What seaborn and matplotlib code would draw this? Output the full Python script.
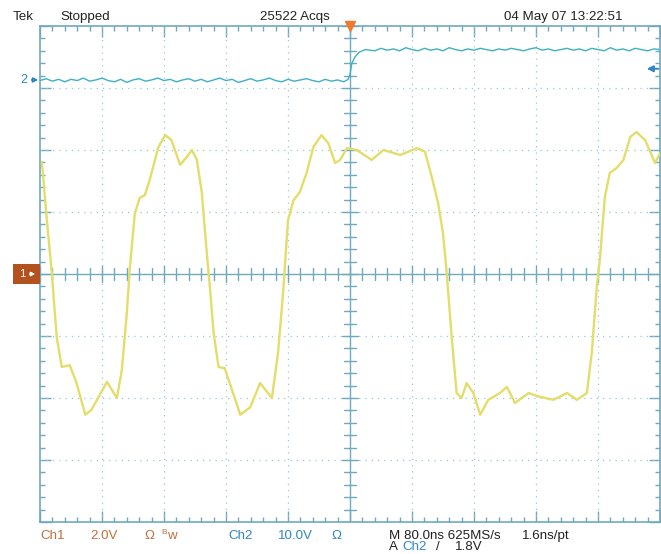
import numpy as np
import pandas as pd
import matplotlib
matplotlib.use("Agg")
import matplotlib.pyplot as plt
import matplotlib.font_manager as fm
from matplotlib.patches import Rectangle
import seaborn as sns

# ---------------- data (screen divisions: x -5..5, y -4..4) ----------------
ch1_t = [-4.97, -4.92, -4.89, -4.81, -4.73, -4.65, -4.52, -4.41, -4.27, -4.17,
         -3.92, -3.76, -3.68, -3.60, -3.55, -3.47, -3.39, -3.31, -3.23, -3.09,
         -2.98, -2.88, -2.74, -2.63, -2.55, -2.47, -2.39, -2.31, -2.26, -2.20,
         -2.12, -2.02, -1.94, -1.77, -1.61, -1.45, -1.26, -1.16, -1.08, -1.00,
         -0.91, -0.81, -0.70, -0.59, -0.46, -0.35, -0.24, -0.16, -0.05, 0.11,
         0.35, 0.54, 0.81, 1.08, 1.21, 1.32, 1.42, 1.50, 1.56, 1.64,
         1.72, 1.80, 1.88, 1.99, 2.10, 2.23, 2.42, 2.53, 2.66, 2.88,
         3.06, 3.28, 3.50, 3.66, 3.82, 3.90, 3.98, 4.03, 4.11, 4.19,
         4.30, 4.41, 4.52, 4.62, 4.76, 4.92, 5.00]
ch1_v = [1.81, 1.23, 0.87, 0.02, -1.02, -1.50, -1.47, -1.76, -2.27, -2.19,
         -1.74, -2.00, -1.55, -0.63, 0.11, 0.98, 1.23, 1.27, 1.52, 2.05,
         2.24, 2.16, 1.76, 1.89, 2.00, 1.84, 1.31, 0.34, -0.21, -0.95,
         -1.50, -1.52, -1.76, -2.27, -2.15, -1.76, -2.00, -1.27, -0.31, 0.87,
         1.19, 1.32, 1.63, 2.05, 2.24, 2.11, 1.79, 1.84, 2.03, 2.00,
         1.84, 2.00, 1.92, 2.03, 1.97, 1.56, 1.15, 0.66, 0.02, -1.02,
         -1.92, -2.00, -1.76, -1.92, -2.27, -2.03, -1.92, -1.82, -2.08, -1.92,
         -1.98, -2.03, -1.92, -2.03, -1.92, -1.27, -0.21, 0.23, 1.24, 1.63,
         1.71, 1.84, 2.21, 2.29, 2.16, 1.79, 1.95]

ch2_t = [-5.0, -4.9, -4.8, -4.7, -4.6, -4.5, -4.4, -4.3, -4.2, -4.1,
         -4.0, -3.9, -3.8, -3.7, -3.6, -3.5, -3.4, -3.3, -3.2, -3.1,
         -3.0, -2.9, -2.8, -2.7, -2.6, -2.5, -2.4, -2.3, -2.2, -2.1,
         -2.0, -1.9, -1.8, -1.7, -1.6, -1.5, -1.4, -1.3, -1.2, -1.1,
         -1.0, -0.9, -0.8, -0.7, -0.6, -0.5, -0.4, -0.3, -0.2, -0.1,
         -0.03, 0.0, 0.03, 0.08, 0.15, 0.25,
         0.4, 0.5, 0.6, 0.7, 0.8, 0.9, 1.0, 1.1, 1.2, 1.3,
         1.4, 1.5, 1.6, 1.7, 1.8, 1.9, 2.0, 2.1, 2.2, 2.3,
         2.4, 2.5, 2.6, 2.7, 2.8, 2.9, 3.0, 3.1, 3.2, 3.3,
         3.4, 3.5, 3.6, 3.7, 3.8, 3.9, 4.0, 4.1, 4.2, 4.3,
         4.4, 4.5, 4.6, 4.7, 4.8, 4.9, 5.0]
ch2_v = [3.12, 3.15, 3.11, 3.14, 3.10, 3.14, 3.12, 3.16, 3.11, 3.13,
         3.16, 3.12, 3.10, 3.14, 3.09, 3.13, 3.15, 3.11, 3.13, 3.16,
         3.12, 3.14, 3.10, 3.13, 3.15, 3.11, 3.14, 3.10, 3.13, 3.16,
         3.12, 3.14, 3.09, 3.12, 3.15, 3.11, 3.13, 3.16, 3.12, 3.10,
         3.14, 3.11, 3.13, 3.15, 3.12, 3.10, 3.14, 3.11, 3.13, 3.10,
         3.14, 3.22, 3.40, 3.50, 3.58, 3.62,
         3.60, 3.64, 3.61, 3.63, 3.60, 3.65, 3.62, 3.60, 3.64, 3.61,
         3.63, 3.60, 3.65, 3.62, 3.60, 3.63, 3.61, 3.64, 3.62, 3.60,
         3.63, 3.61, 3.64, 3.62, 3.60, 3.63, 3.65, 3.61, 3.63, 3.60,
         3.62, 3.64, 3.61, 3.63, 3.60, 3.64, 3.62, 3.60, 3.65, 3.61,
         3.63, 3.60, 3.64, 3.62, 3.60, 3.63, 3.62]

ch1_ref_level = 0.0
ch2_ref_level = 3.13
trig_level = 3.31
trig_time = 0.0

header_left = ["Tek", "Stopped"]
header_acq = "25522 Acqs"
header_date = "04 May 07 13:22:51"

# ---------------- style ----------------
sns.set_theme(style="white")
avail = {f.name for f in fm.fontManager.ttflist}
FONT = "Liberation Sans Narrow" if "Liberation Sans Narrow" in avail else "Liberation Sans"
plt.rcParams["font.family"] = [FONT, "DejaVu Sans"]

W, H = 661, 554
fig = plt.figure(figsize=(W / 100, H / 100), dpi=100)
fig.patch.set_facecolor("white")
ax = fig.add_axes([40 / W, 32 / H, 620 / W, 496 / H])
ax.set_facecolor("white")

GRID = "#6fa9bd"
DOT = "#9cc6d6"
YEL = "#e3dd6a"
CYN = "#3fb0c3"
CH1C = "#c0703c"
CH2C = "#2f86c4"
TXT = "#222222"

df1 = pd.DataFrame({"t": ch1_t, "v": ch1_v})
df2 = pd.DataFrame({"t": ch2_t, "v": ch2_v})
sns.lineplot(data=df1, x="t", y="v", ax=ax, color=YEL, lw=1.7, sort=False, zorder=5)
sns.lineplot(data=df2, x="t", y="v", ax=ax, color=CYN, lw=1.0, sort=False, zorder=5)

ax.set_xlim(-5, 5)
ax.set_ylim(-4, 4)
ax.set_xlabel("")
ax.set_ylabel("")

# dotted graticule
for xv in np.arange(-4, 5):
    if xv != 0:
        ax.axvline(xv, color=DOT, lw=0.9, ls=(0, (1, 4)), zorder=1)
for yv in np.arange(-3, 4):
    if yv != 0:
        ax.axhline(yv, color=DOT, lw=0.9, ls=(0, (1, 4)), zorder=1)

# center crosshair with ticks
ax.axvline(0, color=GRID, lw=1.0, zorder=2)
ax.axhline(0, color=GRID, lw=1.0, zorder=2)
minor_x = np.arange(-5, 5.01, 0.2)
minor_y = np.arange(-4, 4.01, 0.2)
xt = ax.get_xaxis_transform()
yt = ax.get_yaxis_transform()
for m in minor_x:
    major = abs(m - round(m)) < 1e-6
    h = 0.012 if not major else 0.016
    ax.plot([m, m], [0.5 - h, 0.5 + h], transform=xt, color=GRID, lw=1.0, zorder=2)
for m in minor_y:
    major = abs(m - round(m)) < 1e-6
    h = 0.009 if not major else 0.013
    ax.plot([0.5 - h, 0.5 + h], [m, m], transform=yt, color=GRID, lw=1.0, zorder=2)

# border ticks
ax.set_xticks(np.arange(-5, 6))
ax.set_yticks(np.arange(-4, 5))
ax.set_xticks(minor_x, minor=True)
ax.set_yticks(minor_y, minor=True)
ax.tick_params(which="both", direction="in", top=True, right=True, bottom=True, left=True,
               labelbottom=False, labelleft=False, color=GRID, width=1.0)
ax.tick_params(which="major", length=8)
ax.tick_params(which="minor", length=3.5)
for s in ax.spines.values():
    s.set_color(GRID)
    s.set_linewidth(1.2)

# trigger position marker (top)
ax.plot([trig_time], [4.0], marker="v", ms=7, color="#f07a2a", clip_on=False, zorder=10)

def fx(px):
    return px / W

def fy(py):
    return 1 - py / H

# right trigger level arrow
ytl = ax.transData.transform((0, trig_level))[1] / H
fig.add_artist(matplotlib.patches.FancyArrowPatch((fx(661), ytl), (fx(644), ytl),
               transform=fig.transFigure, arrowstyle="-|>", mutation_scale=9, color=CH2C, lw=1.4))

# ch2 ground marker on left
y2f = ax.transData.transform((0, ch2_ref_level))[1] / H
fig.text(fx(24), y2f, "2", color=CH2C, fontsize=9, ha="center", va="center")
fig.add_artist(matplotlib.patches.FancyArrowPatch((fx(29), y2f), (fx(41), y2f),
               transform=fig.transFigure, arrowstyle="-|>", mutation_scale=7, color=CH2C, lw=1.2))

# ch1 ground marker on left
y1 = ax.transData.transform((0, ch1_ref_level))[1] / H
fig.add_artist(Rectangle((fx(13), y1 - 10 / H), 27 / W, 20 / H, transform=fig.transFigure,
                         facecolor="#b4521f", edgecolor="none"))
fig.text(fx(22), y1, "1", color="white", fontsize=8, ha="center", va="center")
fig.add_artist(matplotlib.patches.FancyArrowPatch((fx(27), y1), (fx(38), y1),
               transform=fig.transFigure, arrowstyle="-|>", mutation_scale=6, color="white", lw=1.0))

# header
fs = 9.6
fig.text(fx(13), fy(17), header_left[0], color=TXT, fontsize=fs, va="center", ha="left")
fig.text(fx(60), fy(17), header_left[1], color=TXT, fontsize=fs, va="center", ha="left")
fig.text(fx(330), fy(17), header_acq, color=TXT, fontsize=fs, va="center", ha="right")
fig.text(fx(623), fy(17), header_date, color=TXT, fontsize=fs, va="center", ha="right")

# footer line 1
fy1 = fy(536)
fig.text(fx(40), fy1, "Ch1", color=CH1C, fontsize=fs, va="center")
fig.text(fx(90), fy1, "2.0V", color=CH1C, fontsize=fs, va="center")
fig.text(fx(144), fy1, "Ω", color=CH1C, fontsize=fs, va="center")
fig.text(fx(161), fy(532), "B", color=CH1C, fontsize=6, va="center")
fig.text(fx(167), fy1, "w", color=CH1C, fontsize=fs, va="center")
fig.text(fx(228), fy1, "Ch2", color=CH2C, fontsize=fs, va="center")
fig.text(fx(278), fy1, "10.0V", color=CH2C, fontsize=fs, va="center")
fig.text(fx(331), fy1, "Ω", color=CH2C, fontsize=fs, va="center")
fig.text(fx(389), fy1, "M 80.0ns 625MS/s", color=TXT, fontsize=fs, va="center")
fig.text(fx(522), fy1, "1.6ns/pt", color=TXT, fontsize=fs, va="center")

# footer line 2
fy2 = fy(546.5)
fig.text(fx(389), fy2, "A", color=TXT, fontsize=fs, va="center")
fig.text(fx(402), fy2, "Ch2", color=CH2C, fontsize=fs, va="center")
fig.text(fx(436), fy2, "/", color=TXT, fontsize=fs, va="center")
fig.text(fx(455), fy2, "1.8V", color=TXT, fontsize=fs, va="center")

fig.savefig("out.png", dpi=100, facecolor="white")
